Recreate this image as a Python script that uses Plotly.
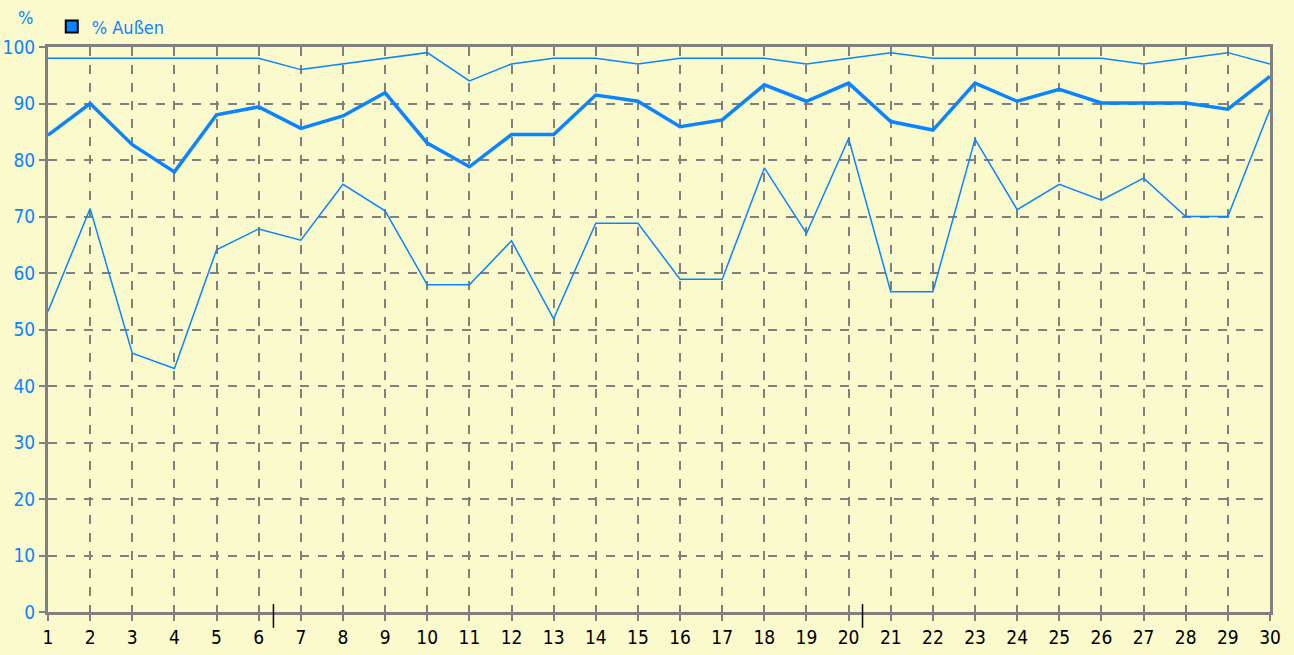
import plotly.graph_objects as go

days = list(range(1, 31))
max_vals = [98, 98, 98, 98, 98, 98, 96, 97, 98, 99, 94, 97, 98, 98, 97, 98, 98, 98, 97, 98,
            99, 98, 98, 98, 98, 98, 97, 98, 99, 97]
mean_vals = [84.4, 90, 82.7, 77.9, 88.0, 89.4, 85.6, 87.8, 91.9, 83.0, 78.8, 84.5, 84.5, 91.5, 90.4,
             85.9, 87.1, 93.3, 90.4, 93.6, 86.8, 85.3, 93.6, 90.4, 92.5, 90.1, 90.1, 90.1, 89.0, 94.8]
min_vals = [53.2, 71.4, 45.8, 43.1, 64.1, 67.8, 65.8, 75.7, 71.0, 57.9, 57.9, 65.7, 51.9, 68.8, 68.8,
            58.9, 58.9, 78.6, 67.0, 83.8, 56.7, 56.7, 83.7, 71.2, 75.7, 72.9, 76.8, 70.0, 70.0, 89.0]
y_ticks = list(range(0, 101, 10))
marker_positions = [6.35, 20.33]

BLUE = "#0A84FF"
BG = "#FAFACD"
GRAY = "#808080"
FONT = "Liberation Sans Narrow, DejaVu Sans Condensed, Arial, sans-serif"

fig = go.Figure()
fig.add_trace(go.Scatter(x=days, y=max_vals, mode="lines", line=dict(color=BLUE, width=1.5),
                         showlegend=False, hoverinfo="skip"))
fig.add_trace(go.Scatter(x=days, y=min_vals, mode="lines", line=dict(color=BLUE, width=1.5),
                         showlegend=False, hoverinfo="skip"))
fig.add_trace(go.Scatter(x=days, y=mean_vals, mode="lines", line=dict(color=BLUE, width=3.5),
                         showlegend=False))
fig.add_trace(go.Scatter(x=[None], y=[None], mode="markers", name="% Außen",
                         marker=dict(symbol="square", size=15, color=BLUE,
                                     line=dict(color="black", width=1.5))))

for xp in marker_positions:
    fig.add_shape(type="line", xref="x", yref="paper", x0=xp, x1=xp, y0=-0.028, y1=0.014,
                  line=dict(color="black", width=1.5))

fig.update_layout(
    width=1294, height=655,
    paper_bgcolor=BG, plot_bgcolor=BG,
    margin=dict(l=48, r=24, t=47, b=43, pad=0, autoexpand=False),
    font=dict(family=FONT, size=18),
    showlegend=True,
    legend=dict(xref="container", yref="container", x=0.040, y=0.959,
                xanchor="left", yanchor="middle", orientation="h",
                bgcolor="rgba(0,0,0,0)", font=dict(color=BLUE, size=18, family=FONT),
                itemsizing="constant", itemwidth=30),
    annotations=[dict(text="%", xref="paper", yref="paper", x=-0.0188, y=1.053,
                      xanchor="center", yanchor="middle", showarrow=False,
                      font=dict(color=BLUE, size=18, family=FONT))],
)
fig.update_xaxes(range=[1, 30], tickmode="array", tickvals=days, ticktext=[str(d) for d in days],
                 showgrid=True, gridcolor=GRAY, griddash="dash", gridwidth=1.5,
                 showline=True, linecolor=GRAY, linewidth=3, mirror=True,
                 ticks="outside", ticklen=6, tickcolor=GRAY, tickwidth=1.5, automargin=False,
                 tickfont=dict(color="black", size=19, family=FONT), zeroline=False)
fig.update_yaxes(range=[0, 100], tickmode="array", tickvals=y_ticks,
                 showgrid=True, gridcolor=GRAY, griddash="dash", gridwidth=1.5,
                 showline=True, linecolor=GRAY, linewidth=3, mirror=True,
                 ticks="outside", ticklen=6, tickcolor=GRAY, tickwidth=1.5, automargin=False,
                 tickfont=dict(color=BLUE, size=19, family=FONT), zeroline=False)

fig.write_html("out.html", config={"displayModeBar": False},
               post_script="document.body.style.margin='0';document.body.style.background='#FAFACD';")
